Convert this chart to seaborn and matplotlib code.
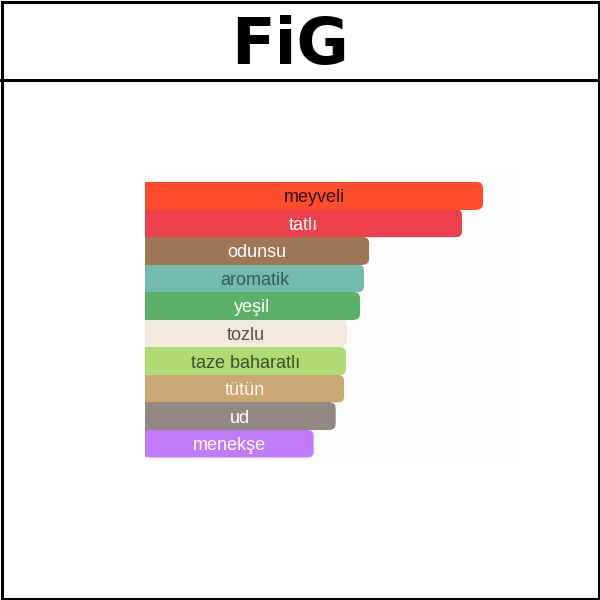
import numpy as np
import pandas as pd
import matplotlib
matplotlib.use('Agg')
import matplotlib.pyplot as plt
from matplotlib.patches import FancyBboxPatch, Rectangle
import seaborn as sns

# Data
notes = ['meyveli', 'tatlı', 'odunsu', 'aromatik', 'yeşil',
         'tozlu', 'taze baharatlı', 'tütün', 'ud', 'menekşe']
strength = [100, 93.8, 66.3, 64.8, 63.6, 59.8, 59.5, 58.9, 56.4, 49.9]
bar_colors = ['#fd4b2c', '#ee3f4c', '#9d7658', '#74baad', '#5ab066',
              '#f3e9df', '#afdb73', '#cba774', '#938882', '#c27bf9']
text_colors = ['#2a1410', '#ffffff', '#ffffff', '#3d5954', '#ffffff',
               '#555050', '#3d4f2c', '#fdf6ea', '#ffffff', '#ffffff']

data = pd.DataFrame({'note': notes, 'strength': strength})

sns.set_style('white')
plt.rcParams['font.family'] = ['Liberation Sans', 'DejaVu Sans']

fig = plt.figure(figsize=(6, 6), dpi=100)
fig.patch.set_facecolor('white')

# chart area (pixel layout of the reference)
ax = fig.add_axes([145 / 600, (600 - 462) / 600, 373 / 600, 294 / 600])
ax.set_facecolor('#fdfdfd')
sns.barplot(data=data, x='strength', y='note', hue='note',
            palette=dict(zip(notes, bar_colors)), legend=False,
            width=1.0, saturation=1, linewidth=0, edgecolor='none',
            ax=ax, orient='h')
xmax = 100 * 373 / 338
ax.set_xlim(0, xmax)
ax.set_ylim(9.5 + 4.5 / 27.5, -0.5 - 14 / 27.5)
ax.set_xlabel('')
ax.set_ylabel('')
ax.set_xticks([])
ax.set_yticks([])
for s in ax.spines.values():
    s.set_visible(False)

# rounded right ends
r = 6 * xmax / 373
aspect = (1 / 27.5) / (xmax / 373)
for p in list(ax.patches):
    x0, y0 = p.get_x(), p.get_y()
    w, h = p.get_width(), p.get_height()
    fc = p.get_facecolor()
    p.set_width(w - r)
    p.set_zorder(3)
    ax.add_patch(FancyBboxPatch((x0, y0), w, h,
                                boxstyle=f'round,pad=0,rounding_size={r}',
                                mutation_aspect=aspect, zorder=2,
                                facecolor=fc, edgecolor='none', lw=0))

for i, (n, v) in enumerate(zip(notes, strength)):
    ax.text(v / 2, i, n, ha='center', va='center_baseline', zorder=4,
            fontsize=13, color=text_colors[i])

# frame, header line and logo
fig.patches.append(Rectangle((1.5 / 600, 1.5 / 600), 597 / 600, 597 / 600,
                             transform=fig.transFigure, fill=False,
                             edgecolor='black', lw=2.2))
fig.lines.append(plt.Line2D([0, 1], [(600 - 79.5) / 600] * 2,
                            transform=fig.transFigure, color='black', lw=2.2))
fig.text(290 / 600, (600 - 64) / 600, 'FiG', ha='center', va='baseline',
         fontsize=46, fontweight='heavy', family='DejaVu Sans', color='black')

fig.savefig('out.png', dpi=100)
